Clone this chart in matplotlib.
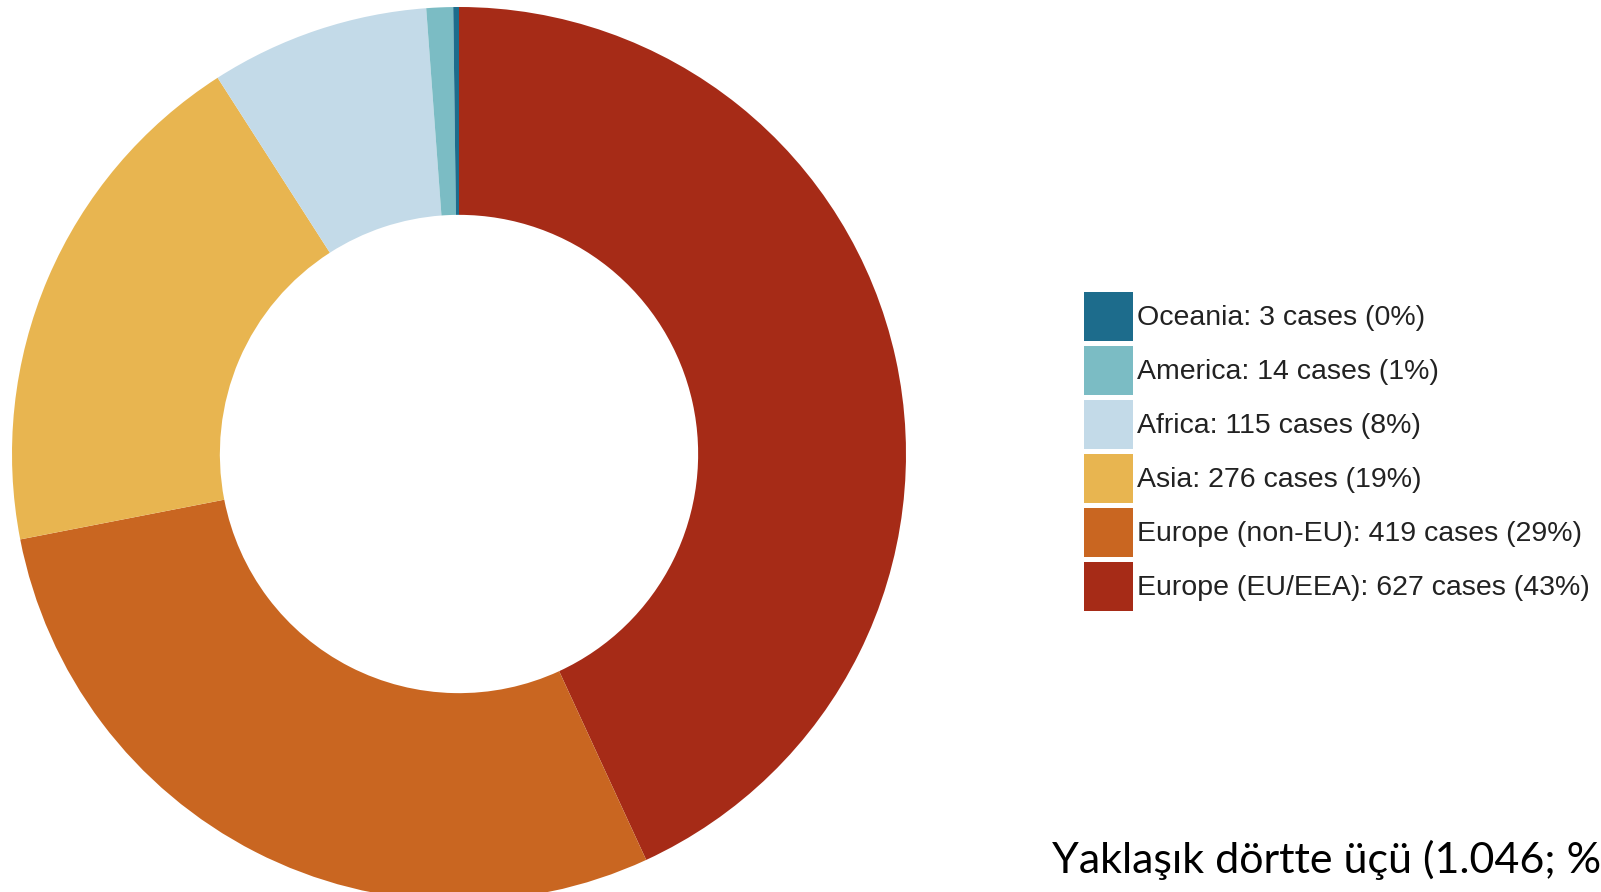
import matplotlib
matplotlib.use('Agg')
import matplotlib.pyplot as plt

plt.rcParams['font.family'] = ['Liberation Sans', 'DejaVu Sans']

# Imported cases by region of origin (clockwise from 12 o'clock)
regions = ['Europe (EU/EEA)', 'Europe (non-EU)', 'Asia', 'Africa', 'America', 'Oceania']
cases = [627, 419, 276, 115, 14, 3]
percents = [43, 29, 19, 8, 1, 0]
colors = ['#A62B17', '#C96621', '#E8B550', '#C3DAE8', '#7BBCC4', '#1D6C8C']

note = 'Yaklaşık dörtte üçü (1.046; %'

W, H = 1601, 892
fig = plt.figure(figsize=(W / 100, H / 100), dpi=100)
fig.patch.set_facecolor('white')

# Square axes for the ring, centred at (459, 454) px with radius 447 px
cx, cy, r = 459, 454, 447
ax = fig.add_axes([(cx - r) / W, (H - cy - r) / H, 2 * r / W, 2 * r / H])
wedges, _ = ax.pie(cases, colors=colors, startangle=90, counterclock=False,
                   radius=1.0, wedgeprops=dict(width=0.465, linewidth=0))
ax.set_xlim(-1, 1)
ax.set_ylim(-1, 1)
ax.set_aspect('equal')
ax.axis('off')

labels = [f'{n}: {c} cases ({p}%)' for n, c, p in zip(regions, cases, percents)]
fs = 20.5
leg = fig.legend(wedges[::-1], labels[::-1], loc='upper left',
                 bbox_to_anchor=(1084 / W, 1 - 292 / H), frameon=False,
                 prop={'family': 'Liberation Sans', 'size': fs},
                 handlelength=1.72, handleheight=2.28,
                 handletextpad=0.14, labelspacing=0.17, borderpad=0,
                 borderaxespad=0)
for t in leg.get_texts():
    t.set_color('#222222')

fig.text(1052 / W, 1 - 873 / H, note, fontsize=31, family=['Lato', 'DejaVu Sans'],
         color='black', ha='left', va='baseline')

fig.savefig('out.png', dpi=100, facecolor='white')
